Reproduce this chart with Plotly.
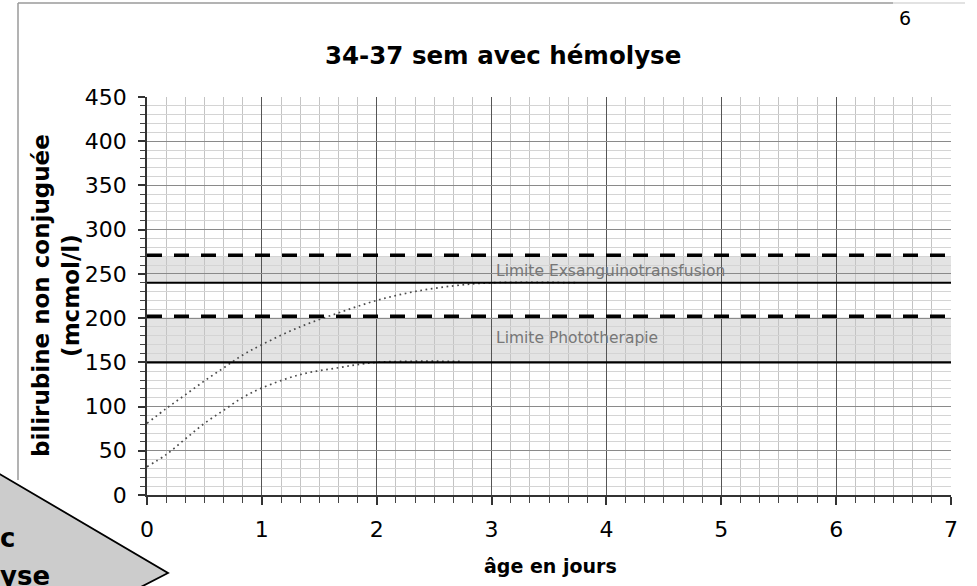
import plotly.graph_objects as go

# ---- data ----
days_upper = [0, 0.17, 0.33, 0.5, 0.67, 0.83, 1, 1.33, 1.67, 2, 2.33, 2.67, 3, 3.75]
bili_upper = [81, 98, 113, 129, 144, 158, 170, 190, 206, 220, 230, 236.5, 240, 240]
days_lower = [0, 0.17, 0.33, 0.5, 0.67, 0.83, 1, 1.33, 1.67, 2, 2.75]
bili_lower = [32, 46, 63, 81, 96, 110, 121, 136, 144, 150, 151]

exsang_band = [240, 270]
exsang_dash = 271
photo_band = [150, 201]
photo_dash = 202
band_labels = ["Limite Exsanguinotransfusion", "Limite Phototherapie"]
band_label_pos = [(3.02, 253), (3.02, 177)]

x_range = [0, 7]
y_range = [0, 450]
x_major_ticks = [0, 1, 2, 3, 4, 5, 6, 7]
x_minor_ticks = [i / 6 for i in range(43)]
y_major_ticks = [0, 50, 100, 150, 200, 250, 300, 350, 400, 450]
y_minor_ticks = list(range(0, 451, 10))

title_text = "34-37 sem avec hémolyse"
x_title = "âge en jours"
y_title = "bilirubine non conjuguée<br>(mcmol/l)"
page_number = "6"

# plot area in reference pixels: x 147..951, y 97..495 (body margin removed below)
W, H = 977, 586
RL, RR, RT, RB = 147, 951, 97, 495
L, T = RL, RT
R, B = W - RR, H - RB
PW, PH = RR - RL, RB - RT


def px(xp):
    return (xp - RL) / PW


def py(yp):
    return (RB - yp) / PH


FONT = "DejaVu Sans"

fig = go.Figure()

for xs, ys in ((days_upper, bili_upper), (days_lower, bili_lower)):
    fig.add_trace(go.Scatter(x=xs, y=ys, mode="lines",
                             line=dict(color="#4a4a4a", width=1.7, dash="1.7px,3.6px", shape="spline"),
                             showlegend=False, hoverinfo="skip"))

shapes = []
for band in (exsang_band, photo_band):
    shapes.append(dict(type="rect", xref="x", yref="y", x0=x_range[0], x1=x_range[1],
                       y0=band[0], y1=band[1], fillcolor="#e3e3e3", line=dict(width=0),
                       layer="below"))
    shapes.append(dict(type="line", xref="x", yref="y", x0=x_range[0], x1=x_range[1],
                       y0=band[0], y1=band[0], line=dict(color="#000000", width=2.2)))
for d in (exsang_dash, photo_dash):
    shapes.append(dict(type="line", xref="x", yref="y", x0=x_range[0], x1=x_range[1],
                       y0=d, y1=d, line=dict(color="#000000", width=3.5, dash="15px,12px")))

# page frame lines and overlapping arrow shape
shapes.append(dict(type="line", xref="paper", yref="paper", x0=px(18), x1=px(893),
                   y0=py(3), y1=py(3), line=dict(color="#9a9a9a", width=1.5)))
shapes.append(dict(type="line", xref="paper", yref="paper", x0=px(893), x1=px(965),
                   y0=py(3), y1=py(3), line=dict(color="#d8d8d8", width=1.5)))
shapes.append(dict(type="line", xref="paper", yref="paper", x0=px(18), x1=px(18),
                   y0=py(3), y1=py(480), line=dict(color="#9a9a9a", width=1.5)))
path = "M {} {} L {} {} L {} {} L {} {} Z".format(
    px(-2), py(473), px(168), py(573), px(135), py(590), px(-2), py(590))
shapes.append(dict(type="path", xref="paper", yref="paper", path=path,
                   fillcolor="#cccccc", line=dict(color="#000000", width=1.8)))

annotations = [
    dict(text="<b>" + title_text + "</b>", xref="paper", yref="paper", x=px(503), y=py(55),
         showarrow=False, xanchor="center", yanchor="middle",
         font=dict(family=FONT, size=24.5, color="#000000")),
    dict(text="<b>" + y_title + "</b>", xref="paper", yref="paper", x=px(56), y=py(296),
         showarrow=False, xanchor="center", yanchor="middle", textangle=-90,
         font=dict(family=FONT, size=23, color="#000000")),
    dict(text="<b>" + x_title + "</b>", xref="paper", yref="paper", x=px(550), y=py(566),
         showarrow=False, xanchor="center", yanchor="middle",
         font=dict(family=FONT, size=19, color="#000000")),
    dict(text=page_number, xref="paper", yref="paper", x=px(905), y=py(18),
         showarrow=False, xanchor="center", yanchor="middle",
         font=dict(family=FONT, size=19, color="#000000")),
    dict(text="<b>c</b>", xref="paper", yref="paper", x=px(17), y=py(538),
         showarrow=False, xanchor="right", yanchor="middle",
         font=dict(family=FONT, size=26, color="#000000")),
    dict(text="<b>yse</b>", xref="paper", yref="paper", x=px(52), y=py(576),
         showarrow=False, xanchor="right", yanchor="middle",
         font=dict(family=FONT, size=26, color="#000000")),
]
for txt, (xx, yy) in zip(band_labels, band_label_pos):
    annotations.append(dict(text=txt, xref="x", yref="y", x=xx, y=yy, showarrow=False,
                            xanchor="left", yanchor="middle",
                            font=dict(family=FONT, size=15.5, color="#777777")))

fig.update_layout(
    width=W, height=H,
    margin=dict(l=L, r=R, t=T, b=B, pad=0),
    paper_bgcolor="white", plot_bgcolor="white",
    shapes=shapes, annotations=annotations,
    showlegend=False,
    xaxis=dict(range=x_range, tickmode="array", tickvals=x_major_ticks,
               ticks="outside", ticklen=8, tickwidth=1.5,
               tickcolor="#333333", showline=True, linecolor="#333333", linewidth=1.5,
               showgrid=True, gridcolor="#555555", gridwidth=1, zeroline=False,
               tickfont=dict(family=FONT, size=22, color="#000000"),
               ticklabelstandoff=6,
               minor=dict(tickmode="array", tickvals=x_minor_ticks, ticks="outside", ticklen=6,
                          tickwidth=1.2, tickcolor="#444444", showgrid=True,
                          gridcolor="#c4c4c4", gridwidth=1),
               fixedrange=True),
    yaxis=dict(range=y_range, tickmode="array", tickvals=y_major_ticks,
               ticks="outside", ticklen=7, tickwidth=1.5,
               tickcolor="#333333", showline=True, linecolor="#333333", linewidth=1.5,
               showgrid=True, gridcolor="#8a8a8a", gridwidth=1, zeroline=False,
               tickfont=dict(family=FONT, size=22, color="#000000"),
               ticklabelstandoff=7,
               minor=dict(tickmode="array", tickvals=y_minor_ticks, ticks="outside", ticklen=5,
                          tickwidth=1.2, tickcolor="#444444", showgrid=True,
                          gridcolor="#d4d4d4", gridwidth=1),
               fixedrange=True),
)

fig.write_html("out.html", config={"displayModeBar": False},
               post_script="document.body.style.margin='0';document.body.style.overflow='hidden';")
